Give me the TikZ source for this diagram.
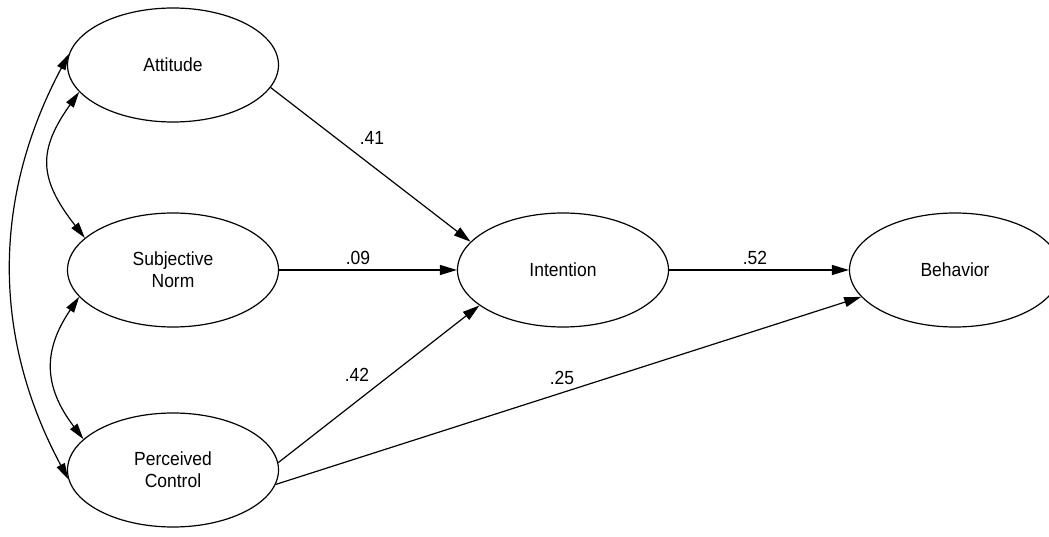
\documentclass[tikz,border=0pt]{standalone}
\usepackage{fontspec}
\setmainfont{Liberation Sans}[FakeStretch=0.92]
\usetikzlibrary{arrows.meta,shapes.geometric}
\tikzset{
  construct/.style={ellipse, draw, line width=1.2pt, minimum width=211pt, minimum height=114pt, inner sep=0pt, align=center, font=\fontsize{19}{22}\selectfont},
  path/.style={line width=1.2pt, -{Triangle[length=17pt,width=10pt]}},
  cov/.style={line width=1.2pt, {Triangle[length=16pt,width=9pt]}-{Triangle[length=16pt,width=9pt]}},
  coef/.style={font=\fontsize{19}{22}\selectfont, inner sep=0pt}
}
\begin{document}
\begin{tikzpicture}[x=1pt,y=-1pt]
\useasboundingbox (0,0) rectangle (1049,537);
\node[construct] (att) at (173,65) {Attitude};
\node[construct] (sn) at (173,270) {Subjective\\Norm};
\node[construct] (pc) at (173,470) {Perceived\\Control};
\node[construct] (int) at (563,270) {Intention};
\node[construct] (beh) at (955,270) {Behavior};

\draw[path] (att.-13) -- (int.163);
\draw[path] (sn) -- (int);
\draw[path] (pc.4) -- (int.203);
\draw[path] (int) -- (beh);
\draw[path] (pc.-8) -- (beh.196);

\draw[cov] (att.174) .. controls (-8,198) and (-8,337) .. (pc.185);
\draw[cov] (att.196) .. controls (38,150) and (38,178) .. (sn.160);
\draw[cov] (sn.196) .. controls (43,350) and (43,386) .. (pc.161);

\node[coef] (l41) at (372,138) {.41};
\node[coef] (l09) at (358,258) {.09};
\node[coef] (l42) at (357,375) {.42};
\node[coef] (l25) at (562,378) {.25};
\node[coef] (l52) at (755,258) {.52};
\end{tikzpicture}
\end{document}
